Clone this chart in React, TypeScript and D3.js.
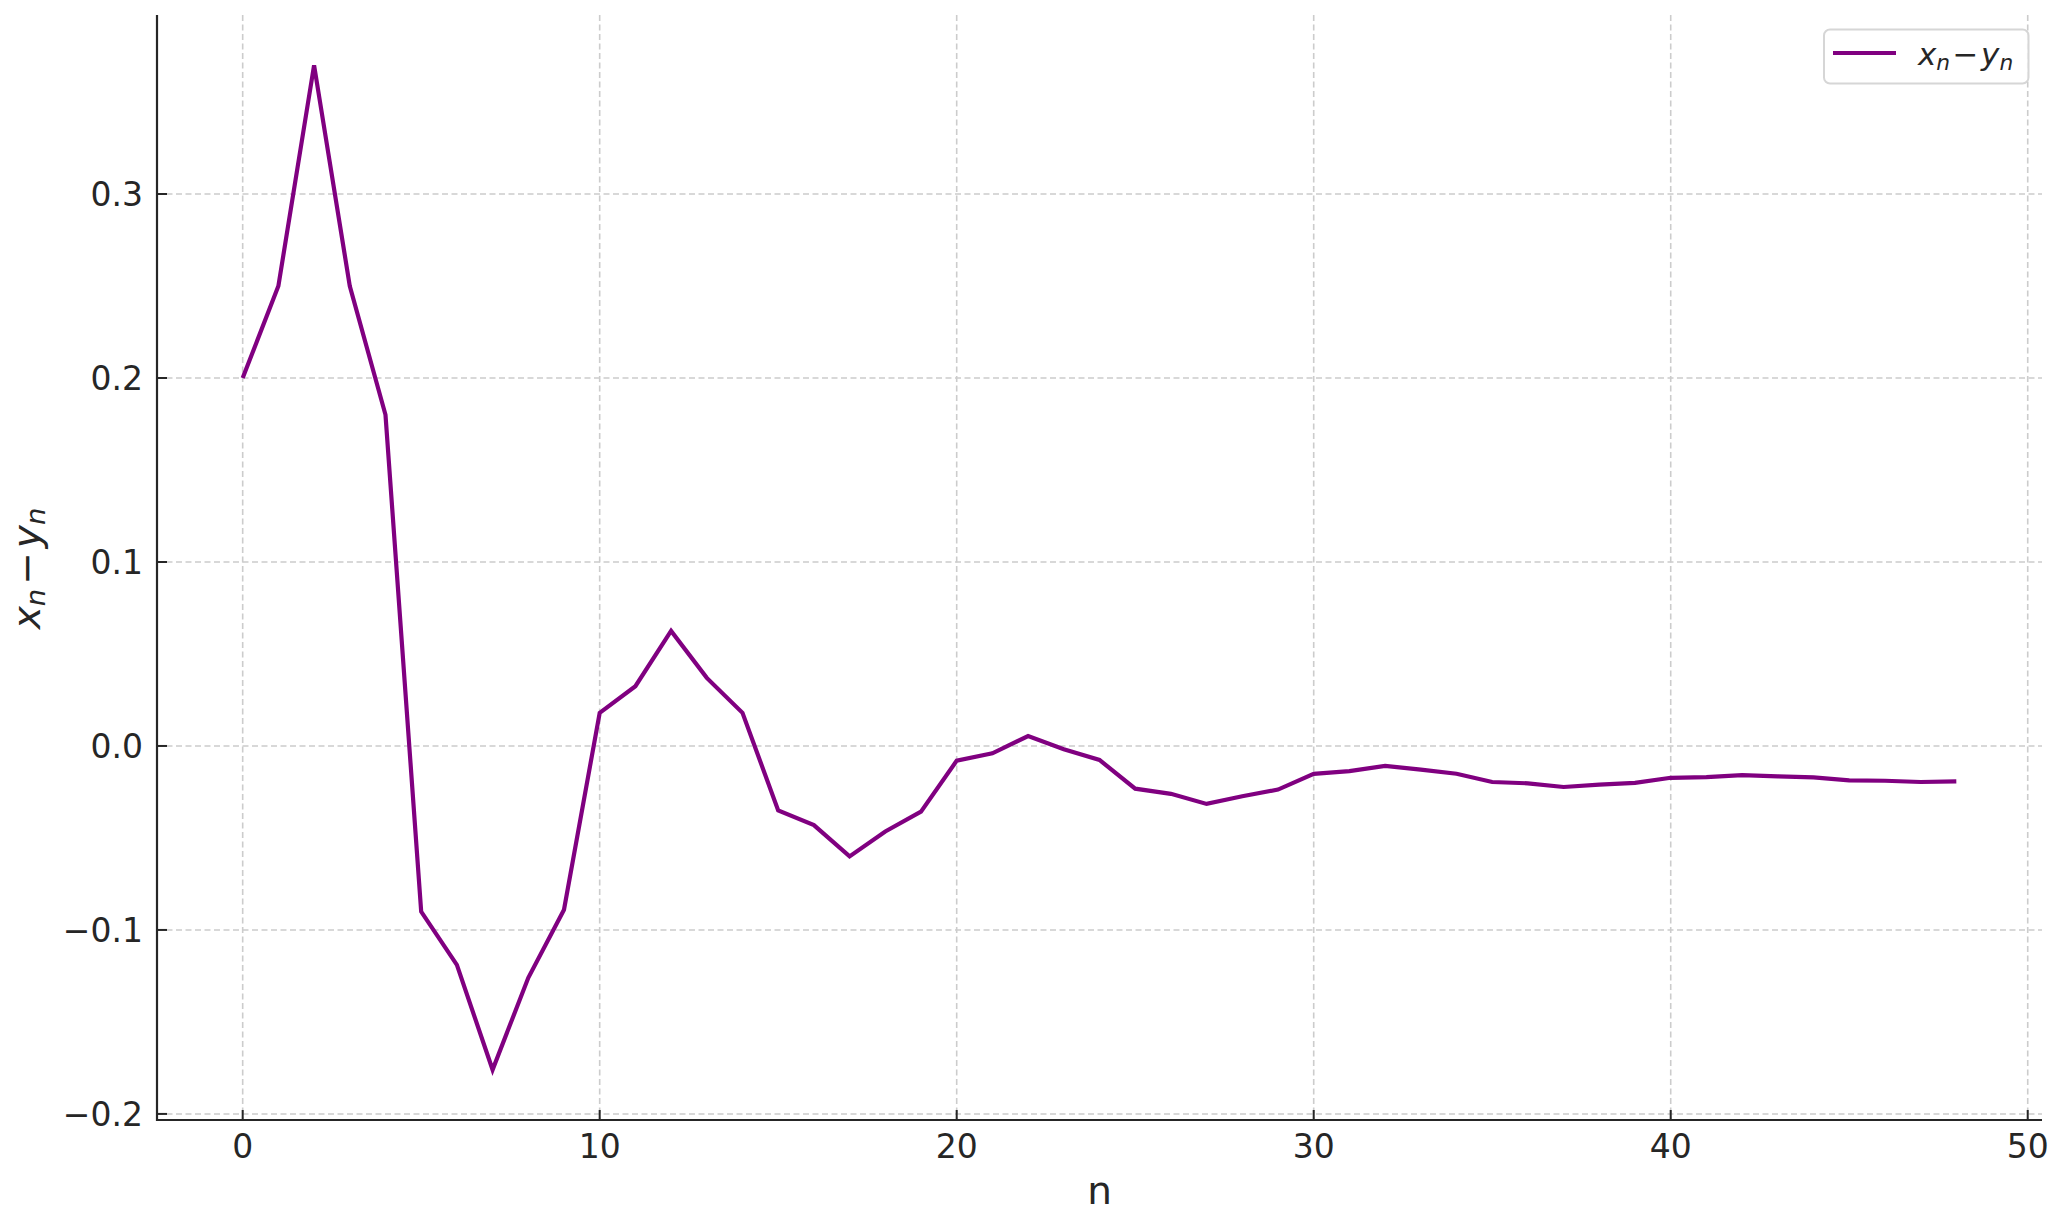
import React, { useEffect } from "react";
import * as d3 from "d3";

const nValues: number[] = Array.from({ length: 49 }, (_, i) => i);
const diffValues: number[] = [
  0.2, 0.25, 0.37, 0.25, 0.18, -0.09, -0.119, -0.176, -0.126, -0.089,
  0.018, 0.0325, 0.0625, 0.037, 0.018, -0.035, -0.043, -0.06, -0.0465, -0.0357,
  -0.008, -0.004, 0.0054, -0.0018, -0.0076, -0.0232, -0.026, -0.0315, -0.0273, -0.0237,
  -0.0152, -0.0137, -0.0108, -0.0129, -0.0151, -0.0196, -0.0203, -0.0223, -0.021, -0.0201,
  -0.0173, -0.0169, -0.0159, -0.0165, -0.0171, -0.0187, -0.0189, -0.0196, -0.0193,
];
const xTicks: number[] = [0, 10, 20, 30, 40, 50];
const yTicks: number[] = [-0.2, -0.1, 0.0, 0.1, 0.2, 0.3];
const xLabel = "n";
const seriesColor = "#800080";

const W = 2066;
const H = 1222;
const left = 157;
const right = 2042;
const top = 15;
const bottom = 1120;
const font = "'DejaVu Sans', sans-serif";
const ink = "#262626";

function fmtY(v: number): string {
  const s = Math.abs(v).toFixed(1);
  return v < -1e-9 ? "\u2212" + s : s;
}

function MathLabel(props: { size: number; sub: number; gap: number }) {
  const { size, sub, gap } = props;
  const subSize = size * 0.7;
  return (
    <>
      <tspan fontStyle="italic">x</tspan>
      <tspan fontStyle="italic" fontSize={subSize} dy={sub}>n</tspan>
      <tspan dy={-sub} dx={gap}>{"\u2212"}</tspan>
      <tspan fontStyle="italic" dx={gap}>y</tspan>
      <tspan fontStyle="italic" fontSize={subSize} dy={sub}>n</tspan>
    </>
  );
}

export default function App() {
  useEffect(() => {
    document.body.style.margin = "0";
  }, []);

  const xMin = d3.min(nValues)!;
  const xMax = d3.max(nValues)!;
  const yMin = d3.min(diffValues)!;
  const yMax = d3.max(diffValues)!;
  const xPad = (xMax - xMin) * 0.05;
  const yPad = (yMax - yMin) * 0.05;

  const x = d3.scaleLinear().domain([xMin - xPad, xMax + xPad]).range([left, right]);
  const y = d3.scaleLinear().domain([yMin - yPad, yMax + yPad]).range([bottom, top]);

  const line = d3
    .line<number>()
    .x((_, i) => x(nValues[i]))
    .y((d) => y(d));

  return (
    <svg
      width={W}
      height={H}
      style={{ position: "absolute", left: 0, top: 0, background: "#fff" }}
      fontFamily={font}
    >
      <rect x={0} y={0} width={W} height={H} fill="#fff" />
      {/* grid */}
      <g stroke="#cccccc" strokeWidth={1.6} strokeDasharray="6,3.5">
        {xTicks.map((t) => (
          <line key={"gx" + t} x1={x(t)} x2={x(t)} y1={top} y2={bottom} />
        ))}
        {yTicks.map((t) => (
          <line key={"gy" + t} x1={left} x2={right} y1={y(t)} y2={y(t)} />
        ))}
      </g>
      {/* series */}
      <path
        d={line(diffValues) || ""}
        fill="none"
        stroke={seriesColor}
        strokeWidth={4.2}
        strokeLinejoin="miter"
        strokeLinecap="butt"
      />
      {/* spines */}
      <line x1={left} x2={left} y1={top} y2={bottom + 1} stroke={ink} strokeWidth={2.2} />
      <line x1={left - 1} x2={right} y1={bottom} y2={bottom} stroke={ink} strokeWidth={2.2} />
      {/* ticks */}
      <g stroke={ink} strokeWidth={2}>
        {xTicks.map((t) => (
          <line key={"tx" + t} x1={x(t)} x2={x(t)} y1={bottom} y2={bottom - 10} />
        ))}
        {yTicks.map((t) => (
          <line key={"ty" + t} x1={left} x2={left + 10} y1={y(t)} y2={y(t)} />
        ))}
      </g>
      {/* tick labels */}
      <g fill={ink} fontSize={33}>
        {xTicks.map((t) => (
          <text key={"lx" + t} x={x(t)} y={1158} textAnchor="middle">
            {String(t)}
          </text>
        ))}
        {yTicks.map((t) => (
          <text key={"ly" + t} x={143} y={y(t) + 12} textAnchor="end">
            {fmtY(t)}
          </text>
        ))}
      </g>
      {/* axis labels */}
      <text x={(left + right) / 2} y={1204} textAnchor="middle" fontSize={39} fill={ink}>
        {xLabel}
      </text>
      <text
        transform={`translate(40, ${(top + bottom) / 2 + 1}) rotate(-90)`}
        textAnchor="middle"
        fontSize={39}
        fill={ink}
      >
        <MathLabel size={39} sub={5} gap={4} />
      </text>
      {/* legend */}
      <rect
        x={1824}
        y={29.5}
        width={204.5}
        height={54}
        rx={6}
        ry={6}
        fill="#ffffff"
        fillOpacity={0.8}
        stroke="#d6d6d6"
        strokeWidth={2}
      />
      <line x1={1833} x2={1896} y1={53} y2={53} stroke={seriesColor} strokeWidth={4.2} />
      <text x={1918} y={65} fontSize={31} fill={ink}>
        <MathLabel size={31} sub={4.5} gap={2.5} />
      </text>
    </svg>
  );
}
